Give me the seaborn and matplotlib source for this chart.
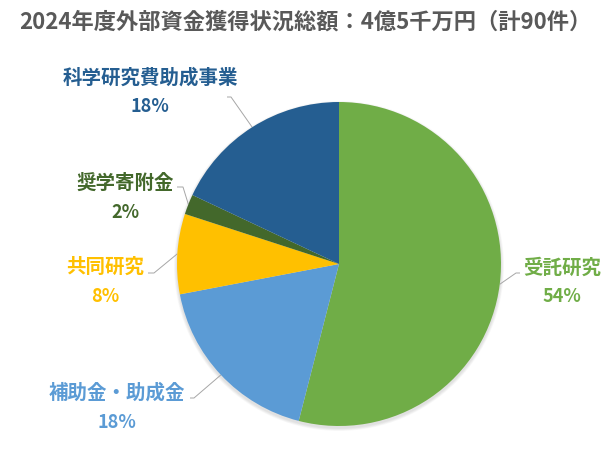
import numpy as np
import matplotlib
matplotlib.use("Agg")
import matplotlib.pyplot as plt
from matplotlib.patches import Circle
import seaborn as sns

# Funding categories, clockwise from 12 o'clock
categories = ["受託研究", "補助金・助成金", "共同研究", "奨学寄附金", "科学研究費助成事業"]
shares = [54, 18, 8, 2, 18]
slice_colors = ["#70AD47", "#5B9BD5", "#FFC000", "#43682B", "#255E91"]
title_text = "2024年度外部資金獲得状況総額：4億5千万円（計90件）"

sns.set_theme(style="white")
plt.rcParams["font.family"] = ["Noto Sans CJK JP", "DejaVu Sans"]

W, H = 610, 458
fig = plt.figure(figsize=(W / 100, H / 100), dpi=100)
ax = fig.add_axes([0, 0, 1, 1])

# pixel-based layout (y measured downward from top, converted below)
pie_cx, pie_cy, pie_r = 339, 264, 162
palette = sns.color_palette(slice_colors)

# soft drop shadow under the pie
for k in range(5):
    ax.add_patch(Circle((pie_cx, H - pie_cy - 2), pie_r + 0.6 * (5 - k),
                        facecolor="black", edgecolor="none", alpha=0.025, zorder=0))

wedges, _ = ax.pie(
    shares,
    colors=palette,
    startangle=90,
    counterclock=False,
    center=(pie_cx, H - pie_cy),
    radius=pie_r,
    wedgeprops=dict(linewidth=0, zorder=2),
)
ax.set_xlim(0, W)
ax.set_ylim(0, H)
ax.set_aspect("equal")
ax.axis("off")

# label centres (name line) and the leader-line start next to each label
label_pos = [(562, 268), (117, 393), (105, 267), (125, 183), (150, 78)]
leader_start = [(520, 273), (190, 398), (148, 273), (177, 187), (227, 97)]
leader_dx = [-4, 4, 6, 6, 4]
pct_gap = 29

for w, name, val, col, (lx, ly), (sx, sy), dx in zip(
    wedges, categories, shares, slice_colors, label_pos, leader_start, leader_dx
):
    mid = np.deg2rad((w.theta1 + w.theta2) / 2)
    ex = pie_cx + pie_r * np.cos(mid)
    ey = (H - pie_cy) + pie_r * np.sin(mid)
    ax.plot([sx, sx + dx, ex], [H - sy, H - sy, ey],
            color="#A6A6A6", lw=0.7, solid_capstyle="butt", zorder=1)
    ax.text(lx, H - ly, name, color=col, fontsize=14, fontweight="bold",
            ha="center", va="center")
    ax.text(lx, H - ly - pct_gap, f"{val}%", color=col, fontsize=13,
            fontweight="bold", ha="center", va="center")

fig.text(305 / W, 1 - 22 / H, title_text, color="#595959", fontsize=16,
         fontweight="bold", ha="center", va="center")

fig.savefig("out.png", dpi=100, facecolor="white")
